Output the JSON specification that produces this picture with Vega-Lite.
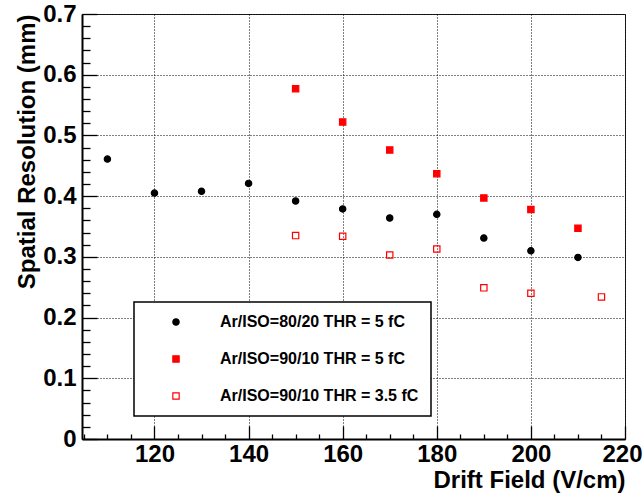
{
  "$schema": "https://vega.github.io/schema/vega-lite/v6.json",
  "width": 543,
  "height": 425,
  "autosize": "none",
  "padding": {"left": 82, "top": 14, "right": 19, "bottom": 54},
  "background": "white",
  "config": {
    "view": {"stroke": "#222", "strokeWidth": 1},
    "font": "Liberation Sans",
    "axis": {"labelFont": "Liberation Sans", "titleFont": "Liberation Sans", "labelColor": "black", "titleColor": "black"},
    "legend": {
      "orient": "none",
      "legendX": 52,
      "legendY": 288,
      "strokeColor": "black",
      "strokeWidth": 1.5,
      "fillColor": "white",
      "padding": 12,
      "rowPadding": 21,
      "symbolOffset": 22,
      "labelOffset": 36,
      "labelFont": "Liberation Sans",
      "labelFontSize": 16,
      "labelFontWeight": "bold",
      "labelColor": "black",
      "labelLimit": 400,
      "symbolSize": 40,
      "symbolStrokeWidth": 1.2,
      "symbolOpacity": 1,
      "title": null
    }
  },
  "data": {
    "values": [
      {"field": 110, "res": 0.461, "series": "Ar/ISO=80/20 THR = 5 fC"},
      {"field": 120, "res": 0.405, "series": "Ar/ISO=80/20 THR = 5 fC"},
      {"field": 130, "res": 0.408, "series": "Ar/ISO=80/20 THR = 5 fC"},
      {"field": 140, "res": 0.421, "series": "Ar/ISO=80/20 THR = 5 fC"},
      {"field": 150, "res": 0.392, "series": "Ar/ISO=80/20 THR = 5 fC"},
      {"field": 160, "res": 0.379, "series": "Ar/ISO=80/20 THR = 5 fC"},
      {"field": 170, "res": 0.364, "series": "Ar/ISO=80/20 THR = 5 fC"},
      {"field": 180, "res": 0.370, "series": "Ar/ISO=80/20 THR = 5 fC"},
      {"field": 190, "res": 0.331, "series": "Ar/ISO=80/20 THR = 5 fC"},
      {"field": 200, "res": 0.310, "series": "Ar/ISO=80/20 THR = 5 fC"},
      {"field": 210, "res": 0.299, "series": "Ar/ISO=80/20 THR = 5 fC"},
      {"field": 150, "res": 0.577, "series": "Ar/ISO=90/10 THR = 5 fC"},
      {"field": 160, "res": 0.522, "series": "Ar/ISO=90/10 THR = 5 fC"},
      {"field": 170, "res": 0.476, "series": "Ar/ISO=90/10 THR = 5 fC"},
      {"field": 180, "res": 0.437, "series": "Ar/ISO=90/10 THR = 5 fC"},
      {"field": 190, "res": 0.397, "series": "Ar/ISO=90/10 THR = 5 fC"},
      {"field": 200, "res": 0.378, "series": "Ar/ISO=90/10 THR = 5 fC"},
      {"field": 210, "res": 0.347, "series": "Ar/ISO=90/10 THR = 5 fC"},
      {"field": 150, "res": 0.335, "series": "Ar/ISO=90/10 THR = 3.5 fC"},
      {"field": 160, "res": 0.334, "series": "Ar/ISO=90/10 THR = 3.5 fC"},
      {"field": 170, "res": 0.303, "series": "Ar/ISO=90/10 THR = 3.5 fC"},
      {"field": 180, "res": 0.313, "series": "Ar/ISO=90/10 THR = 3.5 fC"},
      {"field": 190, "res": 0.249, "series": "Ar/ISO=90/10 THR = 3.5 fC"},
      {"field": 200, "res": 0.240, "series": "Ar/ISO=90/10 THR = 3.5 fC"},
      {"field": 215, "res": 0.234, "series": "Ar/ISO=90/10 THR = 3.5 fC"}
    ]
  },
  "mark": {"type": "point", "filled": false, "strokeWidth": 1.2, "size": 40, "opacity": 1},
  "encoding": {
    "x": {
      "field": "field", "type": "quantitative",
      "scale": {"domain": [104.6, 220], "nice": false, "zero": false},
      "axis": {
        "orient": "bottom",
        "values": [105, 110, 115, 120, 125, 130, 135, 140, 145, 150, 155, 160, 165, 170, 175, 180, 185, 190, 195, 200, 205, 210, 215, 220],
        "labelExpr": "datum.value % 20 == 0 ? datum.label : ''",
        "grid": true, "gridColor": "#000", "gridDash": [1, 2], "gridWidth": 1,
        "gridOpacity": {"condition": {"test": "datum.value % 20 == 0", "value": 1}, "value": 0},
        "ticks": true, "tickColor": "black", "tickWidth": 1.3,
        "tickSize": {"condition": {"test": "datum.value % 20 == 0", "value": -13}, "value": -5},
        "domain": true, "domainColor": "black", "domainWidth": 2,
        "labelFontSize": 24, "labelFontWeight": "bold", "labelPadding": 16, "labelFlush": false, "labelOverlap": false,
        "labelOffset": {"condition": {"test": "datum.value == 220", "value": -3}, "value": 0},
        "title": "Drift Field (V/cm)", "titleAnchor": "end", "titleFontSize": 24, "titleFontWeight": "bold", "titlePadding": -6
      }
    },
    "y": {
      "field": "res", "type": "quantitative",
      "scale": {"domain": [0, 0.7], "nice": false, "zero": false},
      "axis": {
        "orient": "left",
        "values": [0, 0.02, 0.04, 0.06, 0.08, 0.1, 0.12, 0.14, 0.16, 0.18, 0.2, 0.22, 0.24, 0.26, 0.28, 0.3, 0.32, 0.34, 0.36, 0.38, 0.4, 0.42, 0.44, 0.46, 0.48, 0.5, 0.52, 0.54, 0.56, 0.58, 0.6, 0.62, 0.64, 0.66, 0.68, 0.7],
        "format": "~g",
        "labelExpr": "abs(datum.value * 10 - round(datum.value * 10)) < 0.001 ? datum.label : ''",
        "grid": true, "gridColor": "#000", "gridDash": [1, 2], "gridWidth": 1,
        "gridOpacity": {"condition": {"test": "abs(datum.value * 10 - round(datum.value * 10)) < 0.001", "value": 1}, "value": 0},
        "ticks": true, "tickColor": "black", "tickWidth": 1.3,
        "tickSize": {"condition": {"test": "abs(datum.value * 10 - round(datum.value * 10)) < 0.001", "value": -15}, "value": -8},
        "domain": true, "domainColor": "black", "domainWidth": 2,
        "labelFontSize": 24, "labelFontWeight": "bold", "labelPadding": 21, "labelFlush": false, "labelOverlap": false,
        "title": "Spatial Resolution (mm)", "titleAnchor": "end", "titleFontSize": 24, "titleFontWeight": "bold", "titlePadding": 3
      }
    },
    "color": {
      "field": "series", "type": "nominal",
      "scale": {"domain": ["Ar/ISO=80/20 THR = 5 fC", "Ar/ISO=90/10 THR = 5 fC", "Ar/ISO=90/10 THR = 3.5 fC"], "range": ["black", "red", "red"]},
      "legend": {"title": null}
    },
    "fill": {
      "field": "series", "type": "nominal",
      "scale": {"domain": ["Ar/ISO=80/20 THR = 5 fC", "Ar/ISO=90/10 THR = 5 fC", "Ar/ISO=90/10 THR = 3.5 fC"], "range": ["black", "red", "transparent"]},
      "legend": {"title": null}
    },
    "shape": {
      "field": "series", "type": "nominal",
      "scale": {"domain": ["Ar/ISO=80/20 THR = 5 fC", "Ar/ISO=90/10 THR = 5 fC", "Ar/ISO=90/10 THR = 3.5 fC"], "range": ["circle", "square", "square"]},
      "legend": {"title": null}
    }
  }
}
